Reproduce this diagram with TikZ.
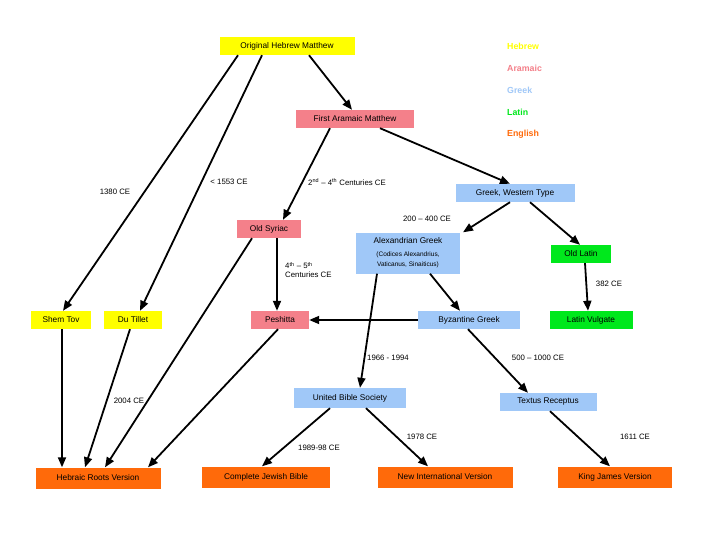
\documentclass[tikz,border=0pt]{standalone}
\usepackage{fontspec}
\setmainfont{Liberation Sans}
\usetikzlibrary{arrows.meta}
\definecolor{hy}{HTML}{FFFF00}
\definecolor{ar}{HTML}{F4808A}
\definecolor{gr}{HTML}{A0C8F8}
\definecolor{la}{HTML}{00E81C}
\definecolor{en}{HTML}{FF6A0A}
\begin{document}
\begin{tikzpicture}[x=1pt,y=-1pt,
  box/.style={draw=none,inner sep=0pt,minimum height=18pt,font=\fontsize{8.3}{10}\selectfont},
  ar/.style={line width=1.8pt,-{Triangle[length=10pt,width=8pt]}},
  lab/.style={font=\fontsize{7.8}{9}\selectfont,inner sep=0pt,fill=white},
  leg/.style={font=\bfseries\fontsize{8.8}{10}\selectfont,anchor=west,inner sep=0pt}]
\useasboundingbox (0,0) rectangle (720,540);
\fill[white] (0,0) rectangle (720,540);
\node[box,fill=hy,minimum width=135pt] (ohm) at (287,46) {Original Hebrew Matthew};
\node[box,fill=ar,minimum width=118pt] (fam) at (355,119) {First Aramaic Matthew};
\node[box,fill=gr,minimum width=119pt] (gwt) at (515,193) {Greek, Western Type};
\node[box,fill=ar,minimum width=64pt] (os) at (269,229) {Old Syriac};
\node[box,fill=gr,minimum width=104pt,minimum height=41pt,align=center] (alx) at (408,253) {Alexandrian Greek\\[3pt]{\fontsize{6.5}{7.5}\selectfont (Codices Alexandrius,}\\{\fontsize{6.5}{7.5}\selectfont Vaticanus, Sinaiticus)}};
\node[box,fill=la,minimum width=60pt] (ol) at (581,254) {Old Latin};
\node[box,fill=hy,minimum width=60pt] (st) at (61,320) {Shem Tov};
\node[box,fill=hy,minimum width=58pt] (dt) at (133,320) {Du Tillet};
\node[box,fill=ar,minimum width=58pt] (pe) at (280,320) {Peshitta};
\node[box,fill=gr,minimum width=102pt] (byz) at (469,320) {Byzantine Greek};
\node[box,fill=la,minimum width=83pt] (lv) at (591,320) {Latin Vulgate};
\node[box,fill=gr,minimum width=112pt,minimum height=20pt] (ubs) at (350,398) {United Bible Society};
\node[box,fill=gr,minimum width=97pt] (tr) at (548,402) {Textus Receptus};
\node[box,fill=en,minimum width=125pt,minimum height=21pt] (hrv) at (98,478) {Hebraic Roots Version};
\node[box,fill=en,minimum width=128pt,minimum height=21pt] (cjb) at (266,477) {Complete Jewish Bible};
\node[box,fill=en,minimum width=135pt,minimum height=21pt] (niv) at (445,477) {New International Version};
\node[box,fill=en,minimum width=114pt,minimum height=21pt] (kjv) at (615,477) {King James Version};

\node[leg,text=hy] (l1) at (507,46) {Hebrew};
\node[leg,text=ar] (l2) at (507,68) {Aramaic};
\node[leg,text=gr] (l3) at (507,90) {Greek};
\node[leg,text=la] (l4) at (507,112) {Latin};
\node[leg,text=en] (l5) at (507,134) {English};

\draw[ar] ([xshift=22pt]ohm.south) -- ([xshift=-3pt]fam.north);
\draw[ar] ([xshift=-49pt]ohm.south) -- ([xshift=2pt]st.north);
\draw[ar] ([xshift=-25pt]ohm.south) -- ([xshift=7pt]dt.north);
\draw[ar] ([xshift=-25pt]fam.south) -- ([xshift=14pt]os.north);
\draw[ar] ([xshift=25pt]fam.south) -- ([xshift=-5pt]gwt.north);
\draw[ar] ([xshift=-5pt]gwt.south) -- ([xshift=55pt]alx.north);
\draw[ar] ([xshift=15pt]gwt.south) -- ([xshift=-1pt]ol.north);
\draw[ar] ([xshift=8pt]os.south) -- ([xshift=-3pt]pe.north);
\draw[ar] ([xshift=-17pt]os.south) -- ([xshift=7pt]hrv.north);
\draw[ar] ([xshift=22pt]alx.south) -- ([xshift=-9pt]byz.north);
\draw[ar] ([xshift=-31pt]alx.south) -- ([xshift=10pt]ubs.north);
\draw[ar] (byz.west) -- (pe.east);
\draw[ar] ([xshift=-1pt]byz.south) -- ([xshift=-20pt]tr.north);
\draw[ar] ([xshift=4pt]ol.south) -- ([xshift=-3pt]lv.north);
\draw[ar] ([xshift=1pt]st.south) -- ([xshift=-36pt]hrv.north);
\draw[ar] ([xshift=-3pt]dt.south) -- ([xshift=-13pt]hrv.north);
\draw[ar] ([xshift=-2pt]pe.south) -- ([xshift=50pt]hrv.north);
\draw[ar] ([xshift=-20pt]ubs.south) -- ([xshift=-4pt]cjb.north);
\draw[ar] ([xshift=16pt]ubs.south) -- ([xshift=-17pt]niv.north);
\draw[ar] ([xshift=2pt]tr.south) -- ([xshift=-5pt]kjv.north);

\node[lab] (t1) at (115,192) {1380 CE};
\node[lab] (t2) at (229,182) {< 1553 CE};
\node[lab] (t3) at (347,182) {2\textsuperscript{nd} – 4\textsuperscript{th} Centuries CE};
\node[lab] (t4) at (427,219) {200 – 400 CE};
\node[lab,align=left,anchor=west,fill=none] (t5) at (285,270) {4\textsuperscript{th} – 5\textsuperscript{th}\\Centuries CE};
\node[lab] (t6) at (609,284) {382 CE};
\node[lab] (t7) at (388,358) {1966 - 1994};
\node[lab] (t8) at (538,358) {500 – 1000 CE};
\node[lab] (t9) at (129,401) {2004 CE};
\node[lab] (t10) at (319,448) {1989-98 CE};
\node[lab] (t11) at (422,437) {1978 CE};
\node[lab] (t12) at (635,437) {1611 CE};
\end{tikzpicture}
\end{document}
